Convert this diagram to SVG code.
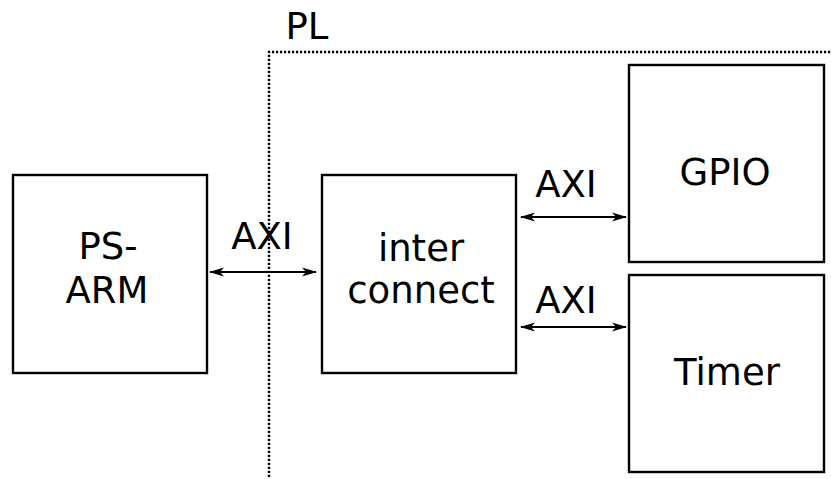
<svg xmlns="http://www.w3.org/2000/svg" width="831" height="479" viewBox="0 0 831 479">
<style>
.box{fill:#fff;stroke:#000;stroke-width:2.4}
.t{font-family:"DejaVu Sans",sans-serif;font-size:37px;fill:#000;text-anchor:middle}
.c{stroke:#000;stroke-width:2;fill:none;marker-start:url(#ah);marker-end:url(#ah)}
.dot{stroke:#000;stroke-width:2.4;fill:none;stroke-dasharray:2.2 1.8}
</style>
<defs>
<marker id="ah" viewBox="0 0 15 10" refX="14" refY="5" markerWidth="15" markerHeight="10" markerUnits="userSpaceOnUse" orient="auto-start-reverse">
<path d="M0,0.5 L15,5 L0,9.5 L4,5 z" fill="#000"/>
</marker>
</defs>
<rect width="831" height="479" fill="#fff"/>
<g id="pl-region">
<path class="dot" d="M269,477 V52 H831"/>
<text class="t" x="307" y="39">PL</text>
</g>
<g id="ps-arm">
<rect class="box" x="13" y="175" width="194" height="198"/>
<text class="t" x="108" y="259">PS-</text>
<text class="t" x="107" y="303">ARM</text>
</g>
<g id="interconnect">
<rect class="box" x="322" y="175" width="194" height="198"/>
<text class="t" x="421" y="261">inter</text>
<text class="t" x="421" y="303">connect</text>
</g>
<g id="gpio">
<rect class="box" x="629" y="65" width="195" height="197"/>
<text class="t" x="725" y="185">GPIO</text>
</g>
<g id="timer">
<rect class="box" x="629" y="275" width="195" height="197"/>
<text class="t" x="727" y="385">Timer</text>
</g>
<g id="connectors">
<line class="c" x1="210" y1="272" x2="316" y2="272"/>
<line class="c" x1="521" y1="217" x2="626" y2="217"/>
<line class="c" x1="521" y1="327" x2="626" y2="327"/>
<text class="t" x="262" y="249">AXI</text>
<text class="t" x="566" y="197">AXI</text>
<text class="t" x="566" y="313">AXI</text>
</g>
</svg>
